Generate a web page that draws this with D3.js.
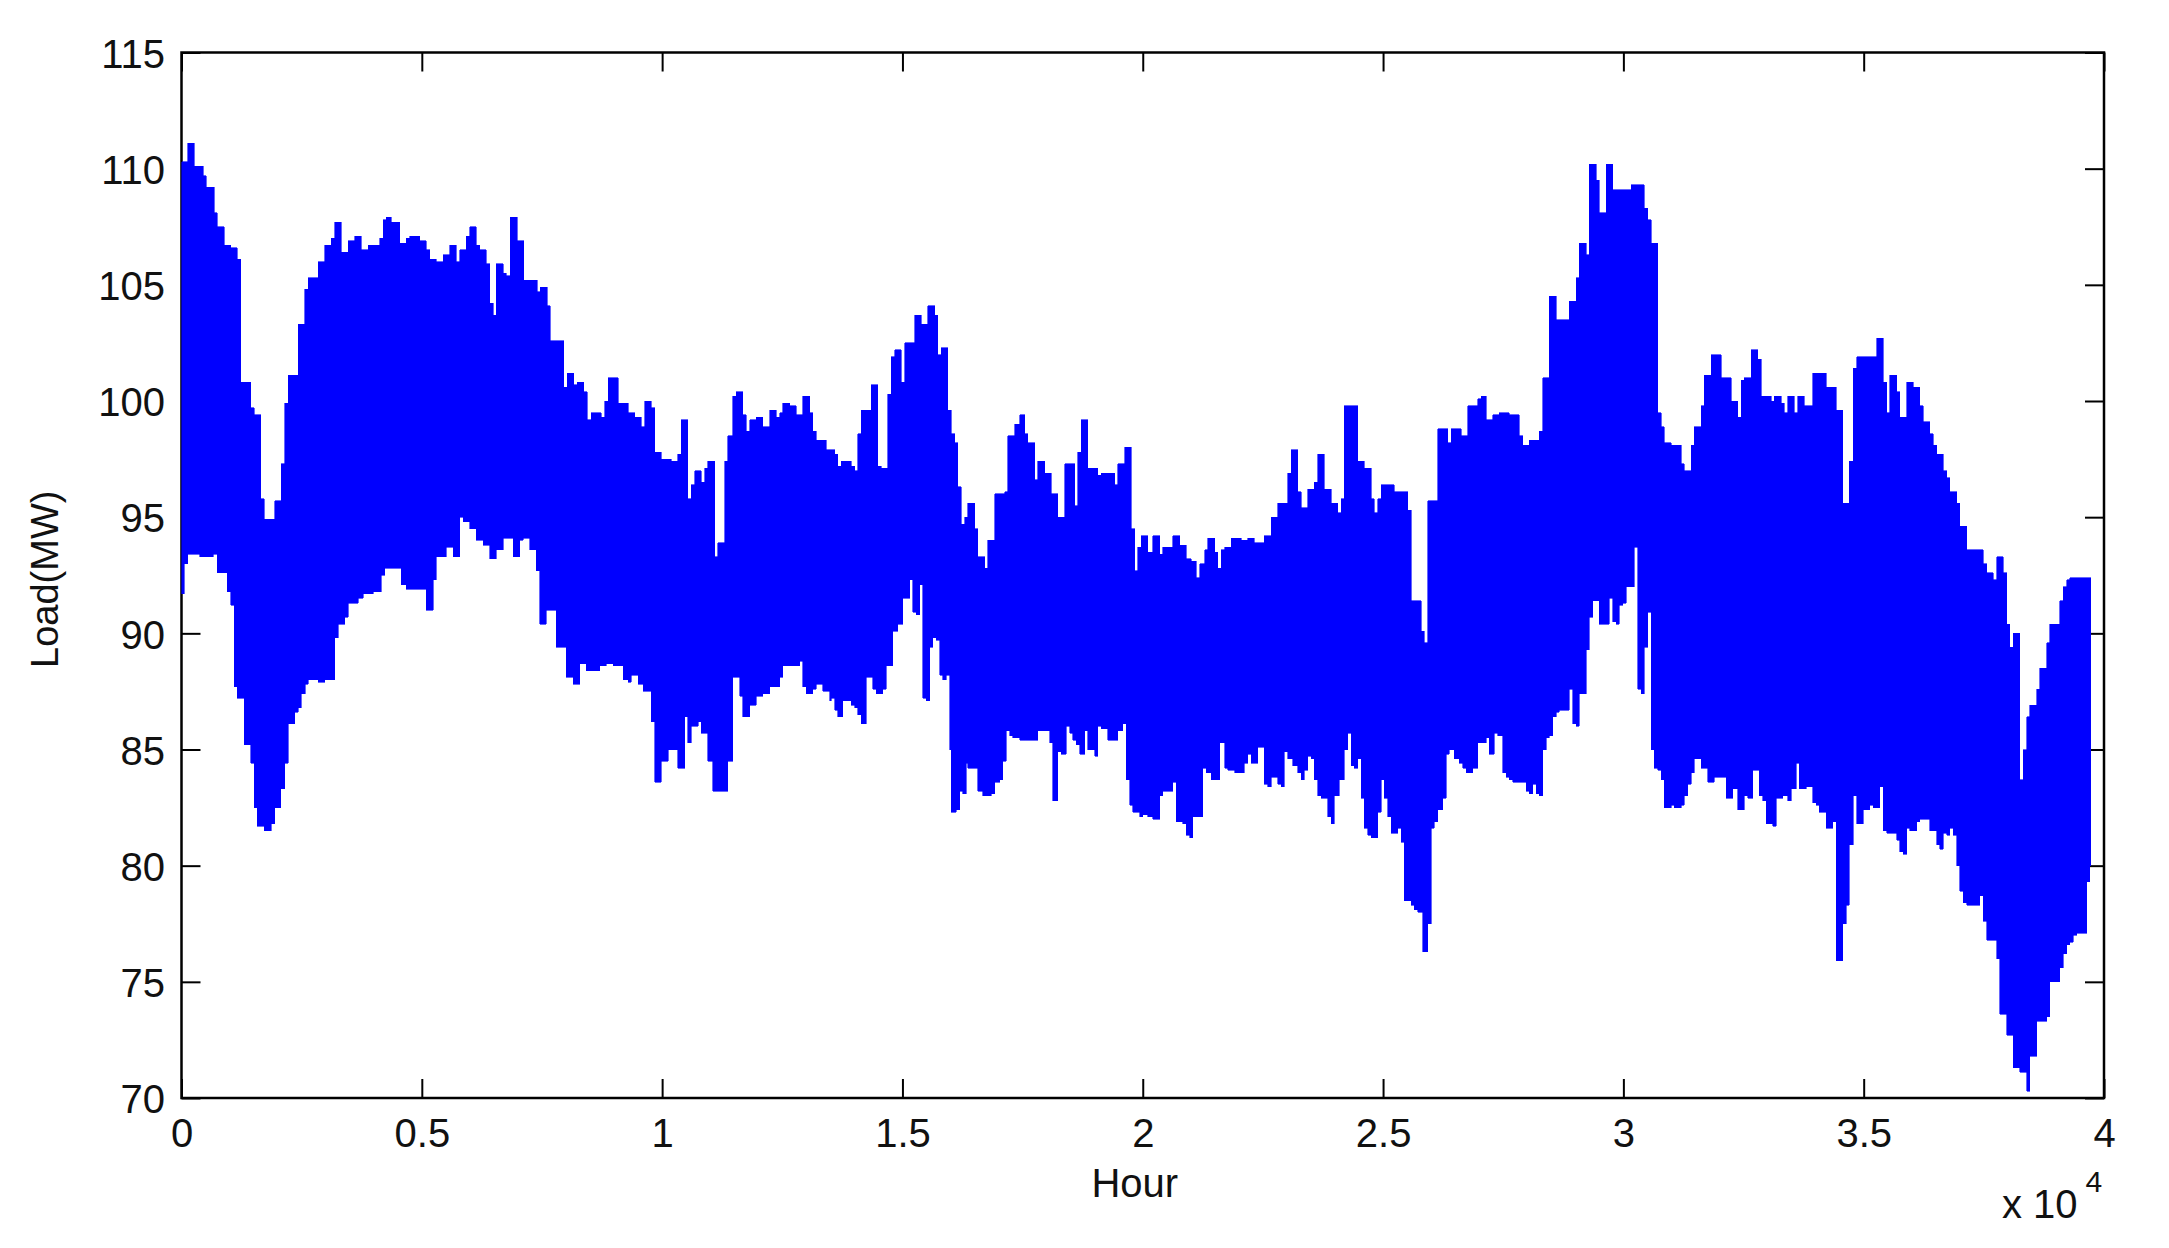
<!DOCTYPE html>
<html>
<head>
<meta charset="utf-8">
<script src="https://cdn.jsdelivr.net/npm/d3@7"></script>
<style>
  html, body { margin: 0; padding: 0; background: #ffffff; }
  svg { display: block; }
  text { font-family: "Liberation Sans", Arial, sans-serif; }
</style>
</head>
<body>
<svg id="chart" width="2169" height="1248"></svg>
<script>
// ---- Data (hour, load MW): upper and lower envelopes of the hourly load trace ----
const upperEnvelope = [
  [0,110.3],[125,111.1],[263,110.1],[451,109.7],[520,109.2],[679,108.1],[749,107.5],[887,106.7],
  [1026,106.6],[1165,106.1],[1234,100.8],[1442,99.7],[1511,99.4],[1650,95.8],[1719,94.9],[1941,95.7],
  [2080,97.3],[2149,99.9],[2219,101.1],[2427,103.3],[2565,104.8],[2635,105.3],[2843,106.0],[2981,106.7],
  [3120,107.0],[3189,107.7],[3328,106.4],[3467,106.9],[3605,107.1],[3744,106.5],[3883,106.7],[4125,107.0],
  [4195,107.8],[4264,107.9],[4368,107.7],[4541,106.8],[4680,107.0],[4749,107.1],[4957,106.9],[5096,106.5],
  [5165,106.1],[5304,106.0],[5442,106.3],[5581,106.7],[5720,106.0],[5789,106.5],[5928,107.1],[5997,107.5],
  [6136,106.7],[6205,106.5],[6344,105.9],[6413,104.2],[6482,103.7],[6552,105.9],[6690,105.5],
  [6760,105.4],[6843,107.9],[6982,106.9],[7121,105.2],[7398,104.7],[7467,104.9],[7606,104.1],[7675,102.6],
  [7953,100.6],[8022,101.2],[8160,100.7],[8230,100.8],[8368,100.4],[8438,99.2],[8528,99.5],[8736,99.3],
  [8805,100.0],[8875,101.0],[9083,99.9],[9291,99.5],[9429,99.3],[9568,98.9],[9637,100.0],[9776,99.7],
  [9845,97.8],[9984,97.5],[10192,97.4],[10330,97.7],[10400,99.2],[10538,95.8],[10608,96.4],[10677,97.0],
  [10816,96.5],[10885,97.1],[10954,97.4],[11093,93.3],[11162,93.9],[11301,97.4],[11370,98.5],[11474,100.2],
  [11544,100.4],[11682,99.4],[11752,98.7],[11821,99.2],[11960,99.3],[12098,98.9],[12237,99.6],[12376,99.3],
  [12445,99.5],[12514,99.9],[12653,99.8],[12792,99.4],[12930,100.2],[13069,99.5],[13138,98.7],[13208,98.3],
  [13416,97.9],
  [13520,97.9],[13589,97.7],[13659,97.2],[13728,97.4],[13936,97.2],[14005,97.0],[14075,98.6],[14144,99.6],
  [14352,100.7],[14491,97.2],[14560,97.1],[14699,100.3],[14768,101.9],[14837,102.2],[14976,100.8],[15045,102.5],
  [15253,103.7],[15392,103.3],[15531,104.1],[15669,103.7],[15739,102.0],[15808,102.3],[15947,99.6],[16016,98.6],
  [16085,98.2],[16155,96.3],[16224,94.7],[16293,95.0],[16363,95.6],[16501,94.5],[16571,93.3],[16709,92.8],
  [16779,94.0],[16917,96.0],[17125,96.1],[17194,98.5],[17333,99.0],[17437,99.4],[17541,98.6],[17610,98.2],
  [17749,96.6],[17819,97.4],[17957,96.9],[18096,96.0],[18234,95.0],[18373,97.3],[18581,95.5],[18650,97.8],
  [18720,99.2],[18858,97.1],[19066,96.8],[19136,96.9],[19413,96.4],[19483,97.3],[19621,98.0],[19760,94.5],
  [19829,92.7],[19898,93.7],[19968,94.2],[20106,93.5],[20210,94.2],
  [20280,94.2],[20349,93.4],[20419,93.7],[20627,94.2],[20765,93.8],[20904,93.2],[21008,93.1],[21112,92.4],
  [21181,93.0],[21285,93.6],[21355,94.1],[21493,93.5],[21563,92.8],[21632,93.6],[21701,93.7],[21840,94.1],
  [22048,94.0],[22187,94.1],[22325,93.9],[22533,94.2],[22672,95.0],[22811,95.6],[23019,96.9],[23088,97.9],
  [23227,96.1],[23296,95.4],[23435,96.2],[23573,96.5],[23643,97.7],[23781,96.2],[23920,95.6],[24058,95.2],
  [24128,95.8],[24197,99.8],[24474,97.4],[24613,97.1],[24752,95.8],[24821,95.2],[24890,95.8],[24960,96.4],
  [25237,96.1],[25514,95.3],[25584,91.4],[25792,90.1],[25861,89.6],[25930,95.7],[26138,98.8],[26346,98.2],
  [26416,98.8],[26624,98.5],[26762,99.8],[26970,100.1],
  [27040,100.2],[27144,99.2],[27283,99.4],[27421,99.5],[27629,99.4],[27837,98.5],[27907,98.1],[28045,98.3],
  [28253,98.7],[28323,101.0],[28461,104.5],[28600,103.5],[28877,104.3],[29016,105.3],[29085,106.8],[29224,106.3],
  [29293,110.2],[29432,109.5],[29501,108.1],[29640,110.2],[29779,109.1],[30160,109.3],[30437,108.3],[30507,107.8],
  [30576,106.8],[30714,99.5],[30784,98.9],[30853,98.2],[30992,98.1],[31200,97.3],[31269,97.0],[31408,98.1],
  [31477,98.9],[31616,99.8],[31685,101.1],[31824,102.0],[32032,101.0],[32240,100.0],[32378,99.3],[32448,100.9],
  [32517,101.0],[32656,102.2],[32794,101.8],[32864,100.2],[33072,100.0],[33141,100.2],[33280,99.9],[33349,99.5],
  [33418,100.2],[33557,99.5],[33626,100.2],[33765,99.8],
  [33800,99.8],[33939,101.2],[34216,100.6],[34424,99.6],[34563,95.6],[34701,97.4],[34784,101.4],[34854,101.9],
  [35270,102.7],[35408,100.8],[35478,99.5],[35547,101.1],[35686,100.4],[35755,99.3],[35894,100.8],[36032,100.6],
  [36171,99.8],[36240,99.1],[36379,98.6],[36448,98.1],[36518,97.7],[36656,97.0],[36726,96.7],[36795,96.1],
  [36934,95.6],[37003,94.6],[37142,93.6],[37488,93.0],[37558,92.6],[37696,92.3],[37766,93.3],[37904,92.6],
  [37974,90.4],[38043,89.4],[38112,90.0],[38251,83.7],[38320,85.0],[38390,86.4],[38459,86.9],[38598,87.6],
  [38667,88.5],[38806,89.6],[38875,90.4],[39083,91.4],[39152,92.0],[39222,92.3],[39291,92.4],[39728,92.4]
];

const lowerEnvelope = [
  [0,91.7],[55,93.0],[125,93.4],[381,93.3],[659,93.4],[749,92.6],[957,91.8],[1026,91.2],
  [1095,87.7],[1165,87.2],[1303,85.2],[1442,84.4],[1511,82.5],[1581,81.7],[1719,81.5],[1872,81.8],
  [1941,82.5],[2066,83.3],[2149,84.4],[2219,86.1],[2357,86.6],[2427,86.8],[2496,87.4],[2579,87.8],
  [2635,88.0],[2843,87.9],[2981,88.0],[3189,89.8],[3259,90.4],[3397,90.7],[3467,91.3],[3675,91.5],
  [3779,91.7],[3987,91.8],[4160,92.5],[4229,92.8],[4576,92.1],[4680,91.9],[5096,91.0],[5234,92.3],
  [5304,93.3],[5512,93.7],[5650,93.3],[5789,95.0],[5858,94.8],[5997,94.5],[6136,94.0],[6274,93.8],
  [6413,93.2],[6552,93.6],[6690,94.1],
  [6760,94.1],[6899,93.3],[7037,94.0],[7107,94.1],[7245,93.6],[7384,92.7],[7453,90.4],[7592,91.0],
  [7800,89.4],[8008,88.1],[8147,87.8],[8285,88.7],[8424,88.4],[8701,88.6],[8840,88.7],[8979,88.6],
  [9187,88.0],[9291,87.9],[9360,88.2],[9499,87.8],[9603,87.5],[9776,86.2],[9845,83.6],[9984,84.5],
  [10123,85.0],[10330,84.2],[10469,86.4],[10538,85.3],[10608,86.0],[10747,86.2],[10816,85.7],[10954,84.5],
  [11058,83.2],[11370,84.5],[11474,88.1],[11613,87.3],[11682,86.4],[11821,86.9],[11960,87.3],[12098,87.4],
  [12237,87.7],[12445,88.1],[12514,88.6],[12861,88.8],[12930,87.7],[13000,87.4],[13138,87.6],[13208,87.8],
  [13346,87.5],[13485,87.1],
  [13520,87.2],[13589,86.7],[13659,86.4],[13763,87.1],[13936,86.9],[14005,86.8],[14075,86.5],[14144,86.1],
  [14248,88.1],[14387,87.6],[14456,87.4],[14595,87.6],[14664,88.6],[14803,90.1],[14907,90.4],[15011,91.5],
  [15149,92.3],[15219,90.9],[15288,90.8],[15357,92.1],[15427,87.2],[15496,87.1],[15565,89.4],[15635,89.8],
  [15704,89.7],[15773,88.2],[15843,88.0],[15912,88.2],[15981,85.0],[16016,82.3],[16120,82.4],[16189,83.2],
  [16259,83.1],[16328,84.4],[16363,84.2],[16571,83.2],[16675,83.0],[16848,83.1],[16917,83.6],[17021,83.7],
  [17090,84.5],[17160,85.8],[17229,85.6],[17299,85.5],[17437,85.4],[17819,85.8],[18061,85.3],[18130,82.8],
  [18234,84.9],[18304,84.8],[18408,86.0],[18477,85.7],[18547,85.4],[18616,85.2],[18685,84.8],[18789,85.8],
  [18858,85.0],[18997,84.7],[19066,86.0],[19136,85.9],[19274,85.4],[19483,85.8],[19587,86.1],[19656,83.7],
  [19725,82.6],[19794,82.3],[19933,82.1],[20002,82.2],[20106,82.1],[20210,82.0],
  [20280,82.0],[20349,83.0],[20419,83.2],[20627,83.6],[20696,81.9],[20835,81.8],[20904,81.3],[20973,81.2],
  [21043,82.1],[21251,84.2],[21320,84.0],[21424,83.7],[21597,85.3],[21701,84.2],[21771,84.1],[21909,84.0],
  [22117,84.4],[22187,84.8],[22256,84.4],[22395,85.1],[22533,83.5],[22603,83.4],[22672,83.8],[22811,83.5],
  [22880,83.4],[22949,84.9],[23019,84.6],[23123,84.3],[23227,84.0],[23296,83.7],[23365,84.1],[23435,84.7],
  [23504,84.6],[23573,83.7],[23643,83.0],[23712,82.9],[23851,82.1],[23920,81.8],[23989,83.0],[24093,83.7],
  [24197,85.0],[24266,85.7],[24336,84.3],[24405,84.2],[24474,84.6],[24544,82.9],[24613,81.6],[24682,81.3],
  [24752,81.2],[24890,82.3],[24960,83.7],[25029,82.9],[25098,82.1],[25168,81.4],[25306,81.6],[25376,81.0],
  [25445,78.5],[25584,78.3],[25653,78.1],[25722,78.0],[25826,76.3],[25930,77.5],[26000,81.6],[26069,81.9],
  [26138,82.4],[26242,82.9],[26312,84.8],[26381,85.0],[26485,84.6],[26589,84.4],[26658,84.2],[26728,84.0],
  [26866,84.2],[26970,85.3],
  [27040,85.3],[27144,85.5],[27213,84.8],[27317,85.7],[27387,85.6],[27491,84.0],[27560,83.8],[27629,83.7],
  [27699,83.6],[27976,83.2],[28045,83.1],[28115,83.5],[28184,83.1],[28253,83.0],[28323,85.0],[28392,85.5],
  [28461,85.6],[28531,86.4],[28600,86.6],[28669,86.7],[28877,87.6],[28947,86.1],[29016,86.0],[29085,87.4],
  [29224,89.3],[29293,90.7],[29363,91.4],[29501,90.4],[29709,91.5],[29779,90.5],[29848,90.4],[29917,91.2],
  [29987,91.3],[30056,92.0],[30229,93.7],[30299,87.6],[30368,87.4],[30437,89.4],[30507,90.9],[30576,85.0],
  [30645,84.2],[30714,84.1],[30784,83.7],[30853,82.5],[30992,82.6],[31061,82.5],[31200,82.6],[31269,83.0],
  [31339,83.5],[31408,84.0],[31477,84.6],[31616,84.2],[31754,83.6],[31893,83.8],[32136,82.9],[32274,83.3],
  [32378,82.4],[32517,83.0],[32587,82.9],[32690,84.1],[32829,83.0],[32898,82.8],[32968,81.8],[33106,81.7],
  [33176,82.9],[33314,83.0],[33418,82.8],[33488,83.3],[33592,84.4],[33661,83.3],
  [33800,83.4],[33939,82.7],[34008,82.6],[34077,82.3],[34216,81.6],[34355,81.9],[34424,75.9],[34563,77.5],
  [34632,78.3],[34701,80.9],[34784,83.0],[34854,81.8],[34992,82.4],[35131,82.6],[35200,82.5],[35339,83.4],
  [35408,81.5],[35478,81.4],[35686,81.1],[35755,80.6],[35824,80.5],[35894,81.6],[35963,81.5],[36102,81.9],
  [36171,82.0],[36379,81.5],[36518,80.9],[36587,80.7],[36656,81.4],[36726,81.3],[36795,81.6],[36864,81.3],
  [36934,80.0],[37003,78.9],[37072,78.4],[37142,78.3],[37419,78.7],[37488,77.6],[37558,76.8],[37766,76.0],
  [37835,73.6],[37974,72.7],[38112,71.3],[38251,71.1],[38390,70.3],[38459,71.8],[38598,73.3],[38806,73.5],
  [38875,75.0],[39083,75.6],[39152,76.2],[39222,76.6],[39291,76.7],[39360,77.0],[39430,77.1],[39638,79.3],
  [39707,80.0],[39728,80.0]
];

const xTickValues = [0, 5000, 10000, 15000, 20000, 25000, 30000, 35000, 40000];
const xTickLabels = ["0", "0.5", "1", "1.5", "2", "2.5", "3", "3.5", "4"];
const yTickValues = [70, 75, 80, 85, 90, 95, 100, 105, 110, 115];
const xDomain = [0, 40000];
const yDomain = [70, 115];

// ---- Layout ----
const plot = { left: 181.5, right: 2104, top: 52.5, bottom: 1098 };
const svg = d3.select("#chart");
const FONT = 40;
const TEXT_COLOR = "#111";

const x = d3.scaleLinear().domain(xDomain).range([plot.left, plot.right]);
const y = d3.scaleLinear().domain(yDomain).range([plot.bottom, plot.top]);

const TICK = 19;

// axes (drawn beneath the data, as in the reference)
const gAxes = svg.append("g");

function styleAxis(g) {
  g.select(".domain").remove();
  g.selectAll(".tick line").attr("stroke", "#000").attr("stroke-width", 2);
  g.selectAll(".tick text").attr("fill", TEXT_COLOR).style("font-size", FONT + "px")
    .style("font-family", '"Liberation Sans", Arial, sans-serif');
}

gAxes.append("g").attr("transform", `translate(0,${plot.bottom})`)
  .call(d3.axisBottom(x).tickValues(xTickValues)
    .tickFormat((d, i) => xTickLabels[i]).tickSizeInner(-TICK).tickSizeOuter(0).tickPadding(20.5))
  .call(styleAxis);

gAxes.append("g").attr("transform", `translate(0,${plot.top})`)
  .call(d3.axisTop(x).tickValues(xTickValues).tickFormat("").tickSizeInner(-TICK).tickSizeOuter(0))
  .call(styleAxis);

gAxes.append("g").attr("transform", `translate(${plot.left},0)`)
  .call(d3.axisLeft(y).tickValues(yTickValues).tickFormat(d3.format("d"))
    .tickSizeInner(-TICK).tickSizeOuter(0).tickPadding(16.5))
  .call(styleAxis)
  .call(g => g.selectAll(".tick text").attr("dy", "0.37em"));

gAxes.append("g").attr("transform", `translate(${plot.right},0)`)
  .call(d3.axisRight(y).tickValues(yTickValues).tickFormat("").tickSizeInner(-TICK).tickSizeOuter(0))
  .call(styleAxis);

// box
gAxes.append("rect")
  .attr("x", plot.left).attr("y", plot.top)
  .attr("width", plot.right - plot.left).attr("height", plot.bottom - plot.top)
  .attr("fill", "none").attr("stroke", "#000").attr("stroke-width", 2.5);

// ---- Data band (upper envelope forward, lower envelope back) ----
const lineUp = d3.line().x(d => x(d[0])).y(d => y(d[1])).curve(d3.curveStepAfter);
const lineDown = d3.line().x(d => x(d[0])).y(d => y(d[1])).curve(d3.curveStepBefore);
const upPath = lineUp(upperEnvelope);
const downPath = lineDown(lowerEnvelope.slice().reverse());
svg.append("path")
  .attr("d", upPath + "L" + downPath.slice(1) + "Z")
  .attr("fill", "#0000ff")
  .attr("stroke", "#0000ff")
  .attr("stroke-width", 0.6)
  .attr("shape-rendering", "crispEdges");

// ---- Labels ----
svg.append("text")
  .attr("x", (plot.left + plot.right) / 2 - 8)
  .attr("y", 1197)
  .attr("text-anchor", "middle")
  .style("font-size", FONT + "px")
  .attr("fill", TEXT_COLOR)
  .text("Hour");

svg.append("text")
  .attr("transform", `translate(58,${(plot.top + plot.bottom) / 2 + 4}) rotate(-90)`)
  .attr("text-anchor", "middle")
  .style("font-size", "38px")
  .attr("fill", TEXT_COLOR)
  .text("Load(MW)");

const mult = svg.append("text")
  .attr("x", 2002)
  .attr("y", 1218)
  .style("font-size", FONT + "px")
  .attr("fill", TEXT_COLOR);
mult.append("tspan").text("x 10");
mult.append("tspan").attr("dy", -26).attr("dx", 8).style("font-size", "30px").text("4");
</script>
</body>
</html>
